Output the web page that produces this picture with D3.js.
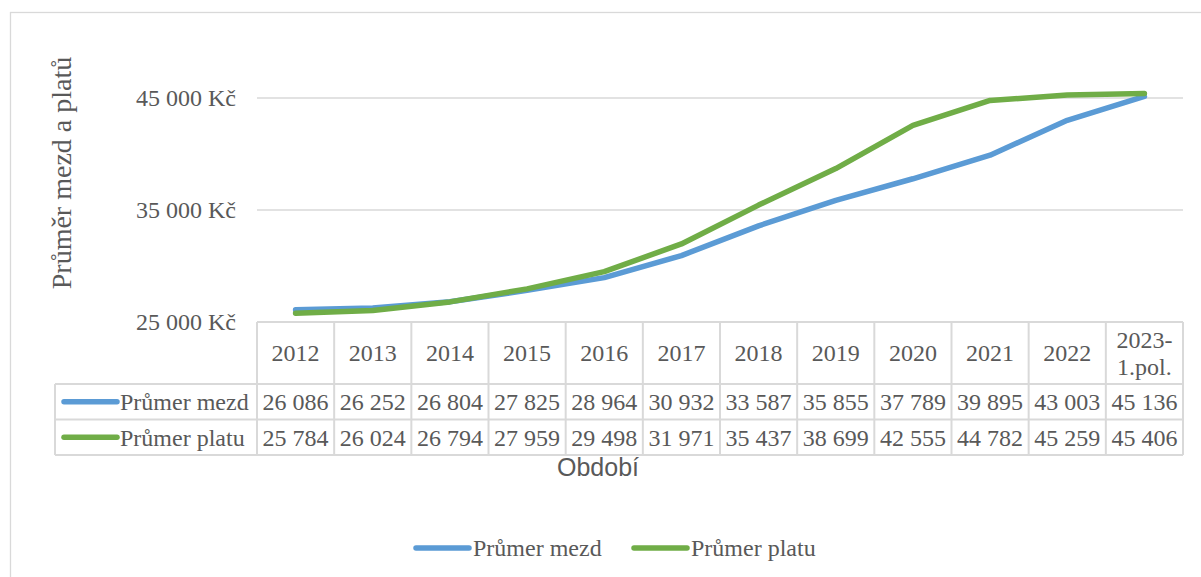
<!DOCTYPE html>
<html><head><meta charset="utf-8">
<script src="https://cdn.jsdelivr.net/npm/d3@7"></script>
<style>body{margin:0;background:#fff;}svg{display:block;}</style>
</head><body>
<svg id="c" width="1201" height="577"></svg>
<script>
const categories = ["2012","2013","2014","2015","2016","2017","2018","2019","2020","2021","2022","2023-\n1.pol."];
const mezd = [26086,26252,26804,27825,28964,30932,33587,35855,37789,39895,43003,45136];
const platu = [25784,26024,26794,27959,29498,31971,35437,38699,42555,44782,45259,45406];
const seriesNames = ["Průmer mezd","Průmer platu"];
const yTicks = [25000,35000,45000];
const yTickLabels = ["25 000 Kč","35 000 Kč","45 000 Kč"];
const colors = ["#5B9BD5","#70AD47"];

const svg = d3.select("#c");
const serif = "'Liberation Serif','Times New Roman',serif";
const txt = "#595959", grid = "#d9d9d9";
const L = 257, R = 1183;
const FS = 24;

svg.append("rect").attr("x",10.5).attr("y",12.5).attr("width",1200).attr("height",580)
  .attr("fill","none").attr("stroke",grid).attr("stroke-width",1.3);

const x = d3.scaleBand().domain(categories).range([L,R]);
const y = d3.scaleLinear().domain([25000,45000]).range([322,98]);

// gridlines
svg.append("g").selectAll("line").data(yTicks.slice(1)).join("line")
  .attr("x1",L).attr("x2",R).attr("y1",d=>y(d)).attr("y2",d=>y(d))
  .attr("stroke",grid).attr("stroke-width",1.3);

// y axis labels
const yAxis = d3.axisLeft(y).tickValues(yTicks).tickSize(0).tickPadding(21)
  .tickFormat((d,i)=>yTickLabels[i]);
const ga = svg.append("g").attr("transform",`translate(${L},0)`).call(yAxis);
ga.select(".domain").remove();
ga.selectAll("text").attr("font-family",serif).attr("font-size",FS).attr("fill",txt).attr("dy","0.32em");

// y title
svg.append("text").attr("transform","translate(71,173) rotate(-90)").attr("text-anchor","middle")
  .attr("font-family",serif).attr("font-size",28).attr("fill",txt).text("Průměr mezd a platů");

// lines
const line = d3.line().x((d,i)=>x(categories[i])+x.bandwidth()/2).y(d=>y(d));
[mezd,platu].forEach((s,k)=>{
  svg.append("path").datum(s).attr("d",line).attr("fill","none")
    .attr("stroke",colors[k]).attr("stroke-width",5.5).attr("stroke-linecap","round").attr("stroke-linejoin","round");
});

// table
const rows = [{top:322,bot:384},{top:384,bot:419.5},{top:419.5,bot:455}];
const tg = svg.append("g");
const tl = (x1,y1,x2,y2)=>tg.append("line").attr("x1",x1).attr("y1",y1).attr("x2",x2).attr("y2",y2).attr("stroke",grid).attr("stroke-width",2);
const legL = 55;
tl(L,322,R,322);
tl(legL,384,R,384);
tl(legL,419.5,R,419.5);
tl(legL,455,R,455);
tl(legL,384,legL,455);
categories.forEach(c=>tl(x(c),322,x(c),455));
tl(R,322,R,455);

categories.forEach(c=>{
  const parts = c.split("\n");
  const cx = x(c)+x.bandwidth()/2;
  const t = tg.append("text").attr("text-anchor","middle").attr("font-family",serif).attr("font-size",FS).attr("fill",txt);
  if(parts.length===1){
    t.attr("x",cx).attr("y",353).attr("dy","0.35em").text(c);
  } else {
    parts.forEach((p,i)=>t.append("tspan").attr("x",cx).attr("y",340+i*27).attr("dy","0.35em").text(p));
  }
});
const fmt = v=>d3.format(",")(v).replace(/,/g," ");
[mezd,platu].forEach((s,k)=>{
  const cy = (rows[k+1].top+rows[k+1].bot)/2;
  s.forEach((v,i)=>{
    tg.append("text").attr("x",x(categories[i])+x.bandwidth()/2).attr("y",cy).attr("dy","0.35em")
      .attr("text-anchor","middle").attr("font-family",serif).attr("font-size",FS).attr("fill",txt).text(fmt(v));
  });
  tg.append("line").attr("x1",64).attr("x2",117).attr("y1",cy).attr("y2",cy).attr("stroke",colors[k]).attr("stroke-width",5.5).attr("stroke-linecap","round");
  tg.append("text").attr("x",120).attr("y",cy).attr("dy","0.35em").attr("font-family",serif).attr("font-size",FS).attr("fill",txt).text(seriesNames[k]);
});

// x title
svg.append("text").attr("x",598).attr("y",467).attr("dy","0.35em").attr("text-anchor","middle")
  .attr("font-family","'Liberation Sans',Arial,sans-serif").attr("font-size",25).attr("fill",txt).text("Období");

// legend
const legX = [416,634];
seriesNames.forEach((n,k)=>{
  svg.append("line").attr("x1",legX[k]).attr("x2",legX[k]+53).attr("y1",548).attr("y2",548).attr("stroke",colors[k]).attr("stroke-width",5.5).attr("stroke-linecap","round");
  svg.append("text").attr("x",legX[k]+57).attr("y",548).attr("dy","0.35em").attr("font-family",serif).attr("font-size",FS).attr("fill",txt).text(n);
});
</script>
</body></html>
